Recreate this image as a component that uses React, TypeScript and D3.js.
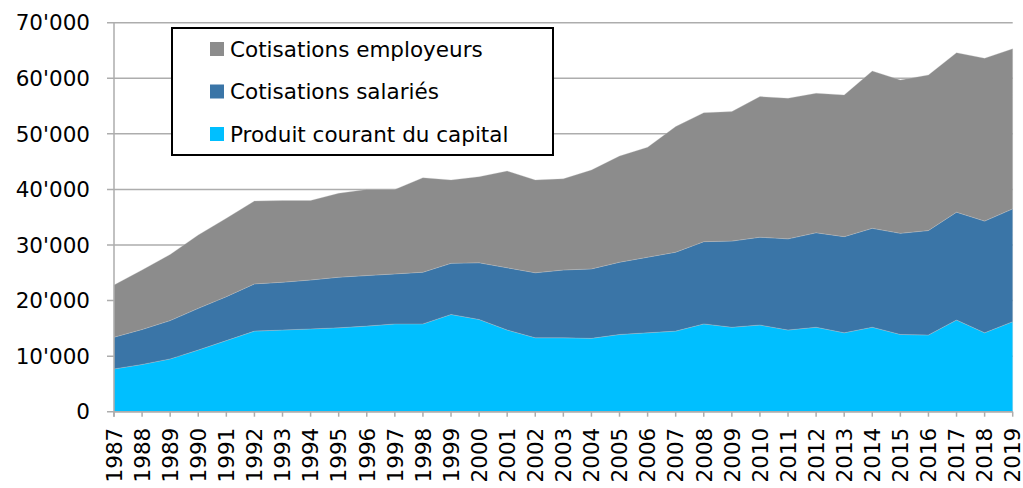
import React from "react";
import * as d3 from "d3";

const years = [1987,1988,1989,1990,1991,1992,1993,1994,1995,1996,1997,1998,1999,2000,2001,2002,2003,2004,2005,2006,2007,2008,2009,2010,2011,2012,2013,2014,2015,2016,2017,2018,2019];
const capital = [7.7,8.5,9.5,11.1,12.8,14.5,14.7,14.9,15.1,15.4,15.8,15.8,17.5,16.6,14.7,13.3,13.3,13.2,13.9,14.2,14.5,15.8,15.2,15.6,14.7,15.2,14.2,15.2,13.9,13.8,16.5,14.2,16.2].map(v => v * 1000);
const cumSalaries = [13.4,14.8,16.4,18.6,20.7,23.0,23.3,23.7,24.2,24.5,24.8,25.1,26.7,26.8,25.9,25.0,25.5,25.7,26.9,27.8,28.7,30.6,30.7,31.4,31.1,32.2,31.5,33.0,32.1,32.6,35.9,34.3,36.5].map(v => v * 1000);
const totals = [22.8,25.5,28.3,31.8,34.8,37.9,38.0,38.0,39.3,40.0,40.0,42.1,41.7,42.3,43.3,41.7,41.9,43.5,46.0,47.6,51.3,53.8,54.0,56.7,56.4,57.3,57.0,61.3,59.7,60.6,64.6,63.6,65.3].map(v => v * 1000);
const salaries = cumSalaries.map((v, i) => v - capital[i]);
const employeurs = totals.map((v, i) => v - cumSalaries[i]);

const seriesNames = ["Produit courant du capital", "Cotisations salariés", "Cotisations employeurs"];
const seriesColors = ["#00BFFF", "#3A75A7", "#8C8C8C"];
const yTicks = [0, 10000, 20000, 30000, 40000, 50000, 60000, 70000];

const W = 1023, H = 488;
const left = 114, right = 1012.7, top = 22.7, bottom = 411.7;
const font = "'DejaVu Sans', Verdana, sans-serif";

export default function App() {
  const x = d3.scaleLinear().domain([years[0], years[years.length - 1]]).range([left, right]);
  const y = d3.scaleLinear().domain([0, 70000]).range([bottom, top]);
  const rows = years.map((yr, i) => ({ year: yr, s0: capital[i], s1: salaries[i], s2: employeurs[i] }));
  const stacked = d3.stack<any>().keys(["s0", "s1", "s2"])(rows);
  const area = d3.area<any>().x((d: any) => x(d.data.year)).y0((d: any) => y(d[0])).y1((d: any) => y(d[1]));
  const fmt = (v: number) => v === 0 ? "0" : d3.format(",")(v).replace(",", "'");
  const legendOrder = [2, 1, 0];
  return (
    <svg width={W} height={H} style={{ position: "absolute", left: 0, top: 0 }} fontFamily={font}>
      <rect x={0} y={0} width={W} height={H} fill="#fff" />
      {yTicks.map(t => (
        <g key={t}>
          <line x1={left - 7} x2={right} y1={y(t)} y2={y(t)} stroke="#ADADAD" strokeWidth={1.5} />
          <text x={90} y={y(t)} dy="0.36em" textAnchor="end" fontSize={21.5} fill="#000">{fmt(t)}</text>
        </g>
      ))}
      {stacked.map((s, i) => (
        <path key={i} d={area(s as any) || ""} fill={seriesColors[i]} stroke="#c8c8c8" strokeOpacity={0.35} strokeWidth={0.8} />
      ))}
      <line x1={left} x2={left} y1={top} y2={bottom + 5} stroke="#ADADAD" strokeWidth={1.5} />
      <line x1={left} x2={right} y1={bottom} y2={bottom} stroke="#ADADAD" strokeWidth={1.5} />
      {years.map(yr => (
        <g key={yr}>
          <line x1={x(yr)} x2={x(yr)} y1={bottom} y2={bottom + 5} stroke="#ADADAD" strokeWidth={1.5} />
          <text transform={`translate(${x(yr)},${bottom + 16}) rotate(-90)`} dy="0.36em" textAnchor="end" fontSize={21.5} fill="#000">{yr}</text>
        </g>
      ))}
      <rect x={172} y={28} width={381} height={127} fill="#fff" stroke="#000" strokeWidth={2} />
      {legendOrder.map((si, k) => {
        const cy = 49 + k * 42.5;
        return (
          <g key={si}>
            <rect x={210} y={cy - 7} width={14} height={14} fill={seriesColors[si]} />
            <text x={230} y={cy} dy="0.36em" fontSize={21.5} fill="#000">{seriesNames[si]}</text>
          </g>
        );
      })}
    </svg>
  );
}
